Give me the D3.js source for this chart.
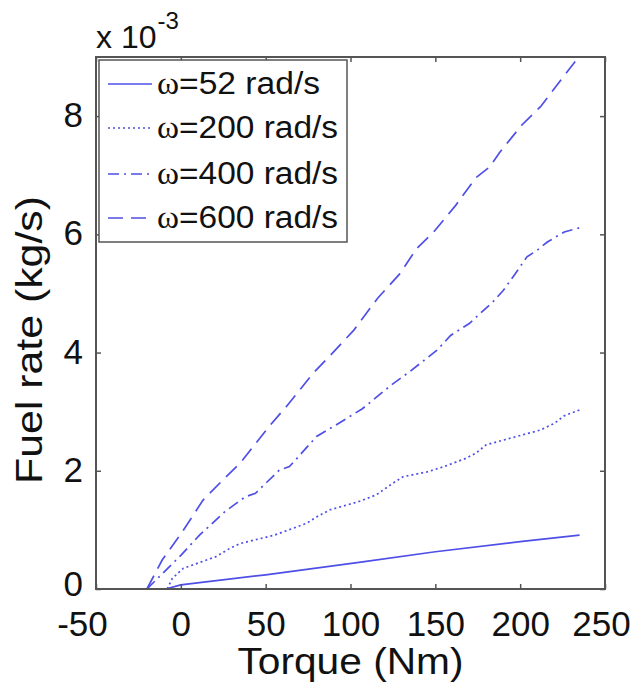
<!DOCTYPE html>
<html><head><meta charset="utf-8">
<script src="https://cdn.jsdelivr.net/npm/d3@7"></script>
<style>
body{margin:0;background:#fff}
text{font-family:"Liberation Sans",Arial,Helvetica,sans-serif;fill:#111}
</style>
</head><body>
<svg id="c" width="638" height="687"></svg>
<script>
// Fuel rate values are in units of 1e-3 kg/s (as the axis multiplier shows)
const torque52  = [-9, 0, 50, 105, 150, 200, 235];
const fuel52    = [0, 0.07, 0.24, 0.45, 0.63, 0.80, 0.91];

const torque200 = [-8, -5, 1.5, 21, 29, 35, 55, 74, 80, 88, 105, 115, 125, 131, 145, 155, 168, 174, 180, 194, 212, 220, 226, 235];
const fuel200   = [0, 0.18, 0.35, 0.55, 0.69, 0.77, 0.91, 1.11, 1.22, 1.34, 1.48, 1.59, 1.79, 1.90, 1.98, 2.07, 2.21, 2.30, 2.44, 2.55, 2.69, 2.80, 2.93, 3.03];

const torque400 = [-20, 0, 11, 26, 38, 44, 58, 64, 80, 90, 107, 124, 135, 151, 159, 170, 184, 190, 197, 204, 210, 216, 226, 235];
const fuel400   = [0, 0.57, 0.91, 1.31, 1.56, 1.62, 2.01, 2.07, 2.58, 2.75, 3.05, 3.45, 3.68, 4.04, 4.29, 4.49, 4.86, 5.05, 5.33, 5.62, 5.73, 5.87, 6.04, 6.11];

const torque600 = [-20, -11, 0, 13, 26, 35, 52, 62, 78, 91, 102, 116, 129, 139, 149, 162, 174, 182, 188, 201, 212, 224, 235];
const fuel600   = [0, 0.49, 0.93, 1.5, 1.88, 2.13, 2.75, 3.08, 3.65, 4.04, 4.38, 4.92, 5.33, 5.76, 6.04, 6.49, 6.96, 7.14, 7.39, 7.85, 8.16, 8.61, 9.02];

const seriesNames = ["=52 rad/s", "=200 rad/s", "=400 rad/s", "=600 rad/s"];
const xTicks = [-50, 0, 50, 100, 150, 200, 250];
const yTicks = [0, 2, 4, 6, 8];

const series = [
  {name: seriesNames[0], t: torque52,  f: fuel52,  dash: null},
  {name: seriesNames[1], t: torque200, f: fuel200, dash: "2,3"},
  {name: seriesNames[2], t: torque400, f: fuel400, dash: "11,5,2,5"},
  {name: seriesNames[3], t: torque600, f: fuel600, dash: "15,8"}
];

const L = 96, T = 57, R = 605, B = 589;
const W = R - L, H = B - T;
const lineColor = "#4f4fe8";
const axisColor = "#555";

const svg = d3.select("#c");
const x = d3.scaleLinear().domain([-50, 250]).range([L, R]);
const y = d3.scaleLinear().domain([0, 9]).range([B, T]);

svg.append("defs").append("clipPath").attr("id", "clip")
  .append("rect").attr("x", L).attr("y", T).attr("width", W).attr("height", H);

// lines
const line = d3.line().x(d => x(d[0])).y(d => y(d[1]));
const g = svg.append("g").attr("clip-path", "url(#clip)");
series.forEach(s => {
  g.append("path")
    .datum(s.t.map((t, i) => [t, s.f[i]]))
    .attr("d", line)
    .attr("fill", "none")
    .attr("stroke", lineColor)
    .attr("stroke-width", 1.7)
    .attr("stroke-dasharray", s.dash);
});

// axes (ticks inside)
const fs = 35;
const xb = svg.append("g").attr("transform", `translate(0,${B})`)
  .call(d3.axisBottom(x).tickValues(xTicks).tickSizeInner(-5).tickSizeOuter(0).tickPadding(22));
const xt = svg.append("g").attr("transform", `translate(0,${T})`)
  .call(d3.axisTop(x).tickValues(xTicks).tickSizeInner(-5).tickSizeOuter(0).tickFormat(""));
const yl = svg.append("g").attr("transform", `translate(${L},0)`)
  .call(d3.axisLeft(y).tickValues(yTicks).tickSizeInner(-5).tickSizeOuter(0).tickPadding(13));
const yr = svg.append("g").attr("transform", `translate(${R},0)`)
  .call(d3.axisRight(y).tickValues(yTicks).tickSizeInner(-5).tickSizeOuter(0).tickFormat(""));
[xb, xt, yl, yr].forEach(a => {
  a.select(".domain").remove();
  a.selectAll(".tick line").attr("stroke", axisColor).attr("stroke-width", 1.5);
  a.selectAll("text").attr("font-size", fs).attr("fill", "#111")
    .attr("font-family", "'Liberation Sans', Arial, sans-serif");
});
yl.selectAll(".tick text").attr("dy", d => d === 0 ? "0.18em" : "0.3em");
xb.selectAll(".tick text")
  .text(d => d < 0 ? "-" + Math.abs(d) : d)
  .attr("dx", d => d === -50 ? -14 : (d === 250 ? -4 : 0));

// frame
svg.append("rect").attr("x", L).attr("y", T).attr("width", W).attr("height", H)
  .attr("fill", "none").attr("stroke", axisColor).attr("stroke-width", 2);

// exponent
const ex = svg.append("text").attr("x", 96).attr("y", 48).attr("font-size", 32);
ex.append("tspan").text("x 10");
ex.append("tspan").attr("font-size", 24).attr("dy", -19).attr("dx", 1).text("-3");

// axis labels
svg.append("text").attr("x", (L + R) / 2).attr("y", 674).attr("text-anchor", "middle")
  .attr("font-size", 36).attr("textLength", 226).attr("lengthAdjust", "spacingAndGlyphs")
  .text("Torque (Nm)");
svg.append("text").attr("transform", `translate(42,340) rotate(-90)`)
  .attr("text-anchor", "middle").attr("font-size", 37)
  .attr("textLength", 288).attr("lengthAdjust", "spacingAndGlyphs")
  .text("Fuel rate (kg/s)");

// legend
const lg = svg.append("g");
lg.append("rect").attr("x", 99).attr("y", 60).attr("width", 248).attr("height", 182)
  .attr("fill", "#fff").attr("stroke", axisColor).attr("stroke-width", 1.5);
const rowY = [84, 128, 174, 218];
const rowLen = [163, 181, 181, 181];
series.forEach((s, i) => {
  lg.append("line").attr("x1", 108).attr("x2", 152).attr("y1", rowY[i]).attr("y2", rowY[i])
    .attr("stroke", lineColor).attr("stroke-width", 1.7).attr("stroke-dasharray", s.dash);
  const t = lg.append("text").attr("x", 157).attr("y", rowY[i] + 10).attr("font-size", 31)
    .attr("textLength", rowLen[i]).attr("lengthAdjust", "spacingAndGlyphs");
  t.append("tspan").attr("font-family", "'Liberation Serif','Times New Roman',serif").text("ω");
  t.append("tspan").text(s.name);
});
</script>
</body></html>
